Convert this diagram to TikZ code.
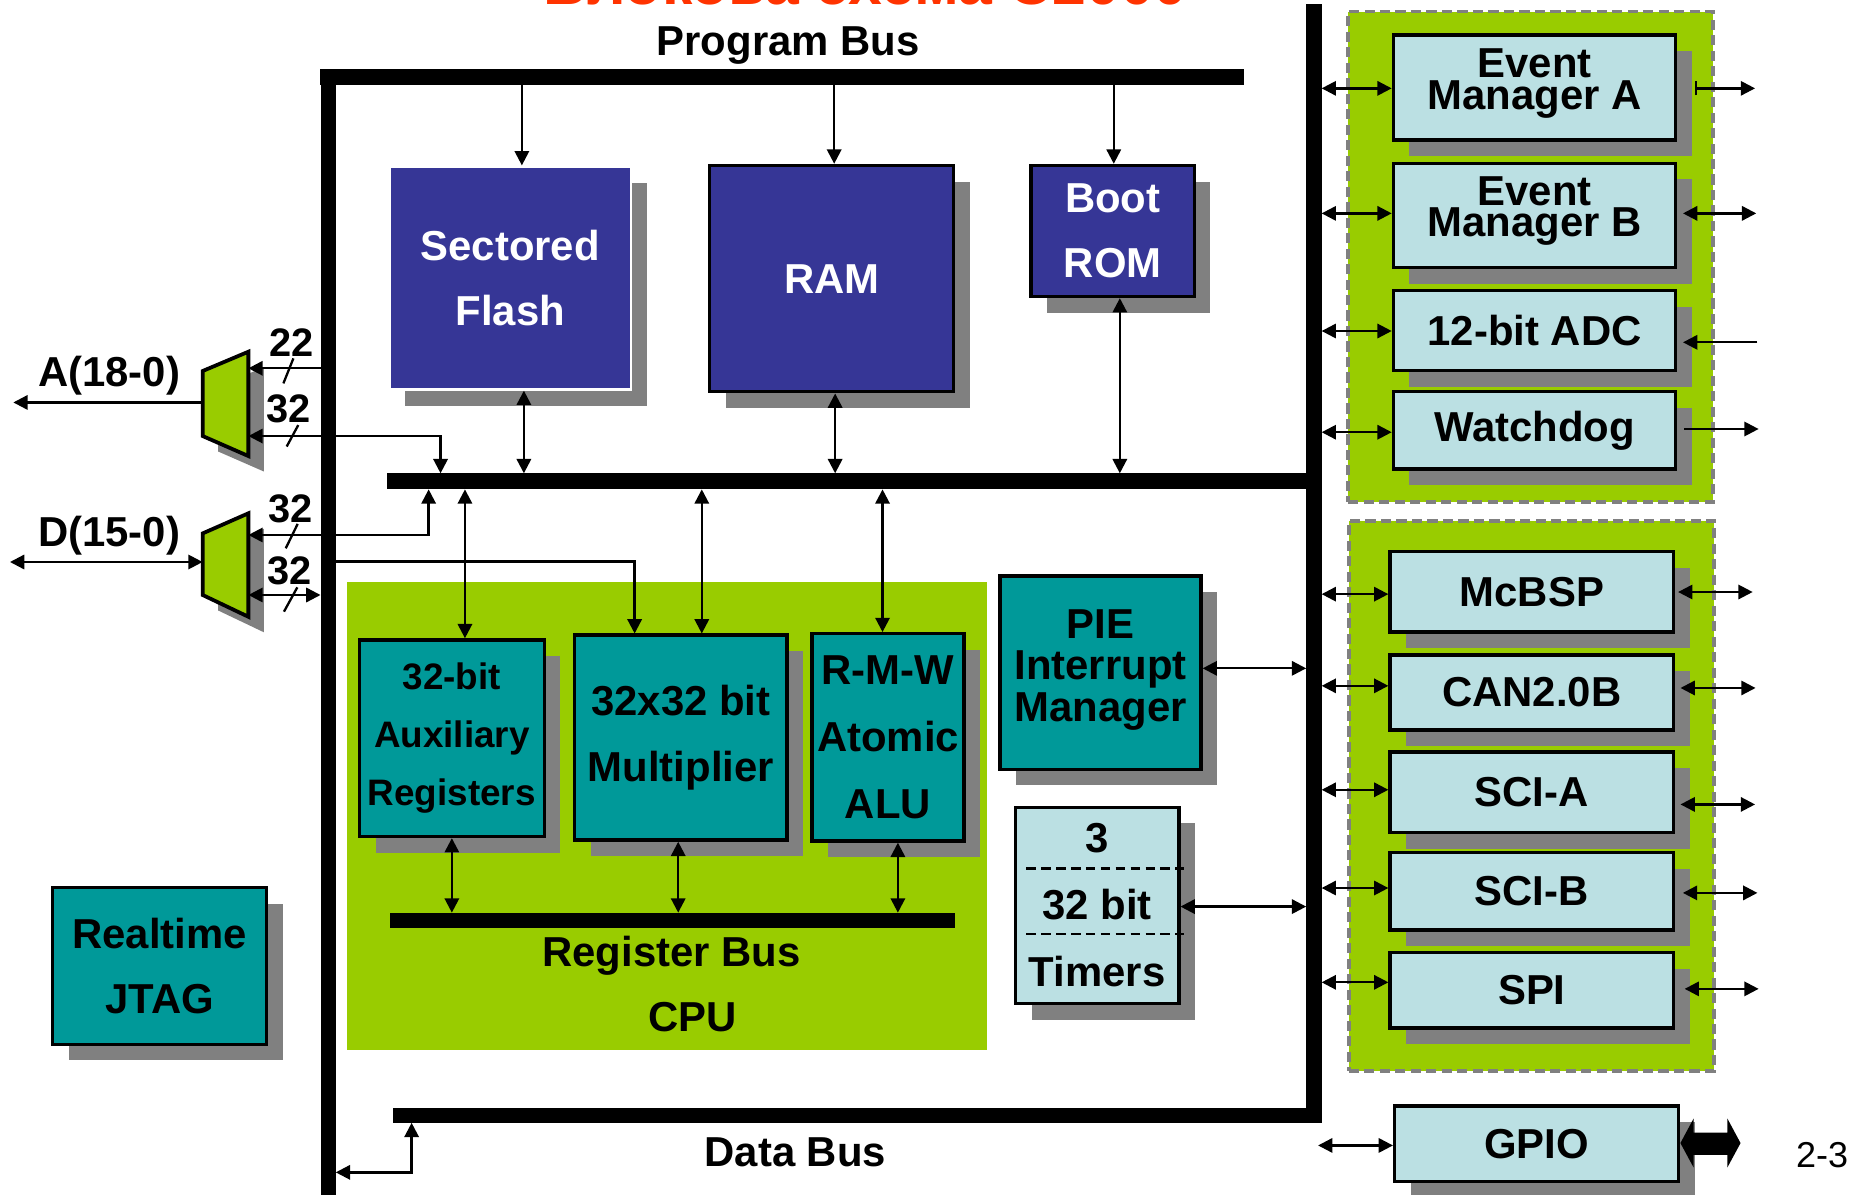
\documentclass[tikz,border=0pt]{standalone}
\usepackage{fontspec}
\setmainfont{Liberation Sans}
\usetikzlibrary{arrows.meta,shadows}
\definecolor{memblue}{RGB}{54,54,150}
\definecolor{tealbox}{RGB}{0,153,153}
\definecolor{lightbox}{RGB}{187,224,227}
\definecolor{cpugreen}{RGB}{153,204,0}
\definecolor{shadowgray}{RGB}{128,128,128}
\definecolor{titlered}{RGB}{255,51,0}
\tikzset{
 >={Triangle[length=1.2mm,width=1.2mm]},
 con/.style={line width=0.55pt},
 bus/.style={fill=black,inner sep=0pt,outer sep=0pt,draw=none},
 shad/.style={drop shadow={shadow xshift=0.135cm,shadow yshift=-0.135cm,fill=shadowgray,opacity=1}},
 blk/.style={shad,draw=black,line width=0.8pt,inner sep=0pt,align=center},
 memblk/.style={blk,fill=memblue,text=white},
 cpublk/.style={blk,fill=tealbox,text=black},
 litblk/.style={blk,fill=lightbox,text=black},
 perblk/.style={litblk,minimum width=2.37cm},
 bs/.style={font=\fontsize{10}{#1}\selectfont\bfseries},
 lbl/.style={inner sep=0pt,font=\fontsize{10}{12}\selectfont\bfseries},
 num/.style={inner sep=0pt,font=\fontsize{9.5}{11}\selectfont\bfseries},
 grp/.style={fill=cpugreen,draw=shadowgray,line width=0.9pt,dash pattern=on 0.085cm off 0.045cm,inner sep=0pt},
}
\begin{document}
\lineskiplimit=-20pt\relax
\begin{tikzpicture}[x=0.01cm,y=-0.01cm]
\fill[white] (0,0) rectangle (1568,1003);
\useasboundingbox (0,0) rectangle (1568,1003);

% title (cut off at the top)
\node[anchor=base,text=titlered,inner sep=0pt,font=\fontsize{14.5}{16}\selectfont\bfseries] (title) at (727,3.4) {Блокова схема C2000};

% background regions
\node[fill=cpugreen,inner sep=0pt,minimum width=5.375cm,minimum height=3.935cm] (cpu) at (560.25,685.25) {};
\node[grp,minimum width=3.058cm,minimum height=4.115cm] (grp1) at (1285.4,215.55) {};
\node[grp,minimum width=3.069cm,minimum height=4.618cm] (grp2) at (1286.25,668.6) {};

% buses
\node[bus,minimum width=7.755cm,minimum height=0.132cm] (pbus) at (656.95,64.8) {};
\node[bus,minimum width=0.128cm,minimum height=9.6cm] (lbus) at (275.6,538.2) {};
\node[bus,minimum width=0.13cm,minimum height=9.396cm] (rbus) at (1103.5,473.2) {};
\node[bus,minimum width=7.846cm,minimum height=0.135cm] (mbus) at (717.7,404.25) {};
\node[bus,minimum width=7.8cm,minimum height=0.127cm] (dbus) at (720,936.65) {};
\node[bus,minimum width=4.747cm,minimum height=0.132cm] (regbus) at (564.65,773.1) {};

% memory blocks
\node[memblk,draw=white,line width=0.6pt,minimum width=2.03cm,minimum height=1.87cm,bs=15.75] (flash) at (428.5,233.5) {Sectored\\Flash};
\node[memblk,minimum width=2.05cm,minimum height=1.9cm,bs=12] (ram) at (698.5,234) {RAM};
\node[memblk,minimum width=1.37cm,minimum height=1.1cm,bs=15.5] (boot) at (934.5,194) {Boot\\ROM};

% CPU blocks
\node[cpublk,minimum width=1.55cm,minimum height=1.65cm,font=\fontsize{8.8}{13.8}\selectfont\bfseries] (aux) at (379.5,620) {32-bit\\Auxiliary\\Registers};
\node[cpublk,minimum width=1.785cm,minimum height=1.72cm,bs=15.9] (mult) at (571.8,619.5) {32x32 bit\\Multiplier};
\node[cpublk,minimum width=1.275cm,minimum height=1.74cm,bs=16] (alu) at (745.8,619.3) {R-M-W\\Atomic\\ALU};

% PIE, timers, JTAG
\node[cpublk,minimum width=1.686cm,minimum height=1.623cm,bs=9.9] (pie) at (924.3,564.9) {PIE\\Interrupt\\Manager\rule[-3.5pt]{0pt}{0pt}};
\node[litblk,minimum width=1.37cm,minimum height=1.65cm,bs=16] (timers) at (921.5,760.5) {3\\32 bit\\Timers};
\draw[dash pattern=on 0.08cm off 0.045cm,line width=0.7pt] (862,729.3) -- (994,729.3);
\draw[dash pattern=on 0.08cm off 0.045cm,line width=0.7pt] (862,784.4) -- (994,784.4);
\node[cpublk,minimum width=1.796cm,minimum height=1.315cm,bs=15.5] (jtag) at (134,811.3) {Realtime\\JTAG};

% peripherals
\node[perblk,minimum height=0.88cm,bs=7.5] (ema) at (1288.8,73.5) {Event\\Manager A\rule[-4pt]{0pt}{0pt}};
\node[perblk,minimum height=0.876cm,bs=7.5] (emb) at (1288.8,181) {Event\\Manager B\rule[-4.2pt]{0pt}{0pt}};
\node[perblk,minimum height=0.672cm,bs=12] (adc) at (1288.8,277.7) {12-bit ADC};
\node[perblk,minimum height=0.65cm,bs=12] (wd) at (1288.8,361.5) {Watchdog};
\node[perblk,minimum width=2.38cm,minimum height=0.673cm,bs=12] (mcbsp) at (1286.5,497) {McBSP};
\node[perblk,minimum width=2.38cm,minimum height=0.632cm,bs=12] (can) at (1286.5,581.6) {CAN2.0B};
\node[perblk,minimum width=2.38cm,minimum height=0.677cm,bs=12] (scia) at (1286.5,665.5) {SCI-A};
\node[perblk,minimum width=2.38cm,minimum height=0.651cm,bs=12] (scib) at (1286.5,748.6) {SCI-B};
\node[perblk,minimum width=2.38cm,minimum height=0.632cm,bs=12] (spi) at (1286.5,831.7) {SPI};
\node[perblk,minimum width=2.383cm,minimum height=0.632cm,bs=12] (gpio) at (1290.5,960.6) {GPIO};

% multiplexers
\fill[shadowgray] (183.2,324.6) -- (221.6,308.4) -- (221.6,396) -- (183.2,379.2) -- cycle;
\draw[fill=cpugreen,line width=0.9pt] (170.2,311.6) -- (208.6,295.4) -- (208.6,383) -- (170.2,366.2) -- cycle;
\fill[shadowgray] (183.2,461) -- (221.6,444.1) -- (221.6,531) -- (183.2,512.7) -- cycle;
\draw[fill=cpugreen,line width=0.9pt] (170.2,448) -- (208.6,431.1) -- (208.6,518) -- (170.2,499.7) -- cycle;
\coordinate (muxAl) at (170.2,338);
\coordinate (muxAr) at (208.6,339);
\coordinate (muxDl) at (170.2,472);
\coordinate (muxDr) at (208.6,474);
\coordinate (aEnd) at (11.2,338);
\coordinate (dEnd) at (8.4,472);

% labels
\node[lbl,anchor=base] (lPB) at (662,46.2) {Program Bus};
\node[lbl,anchor=base] (lA) at (91.7,324.2) {A(18-0)};
\node[lbl,anchor=base] (lD) at (91.7,459.1) {D(15-0)};
\node[num,anchor=base] (n22) at (244.5,299.6) {22};
\node[num,anchor=base] (n32a) at (242.5,355) {32};
\node[num,anchor=base] (n32b) at (243.7,439) {32};
\node[num,anchor=base] (n32c) at (243,491.3) {32};
\node[lbl,anchor=base] (lRB) at (564,811.9) {Register Bus};
\node[lbl,anchor=base] (lCPU) at (581.6,866.5) {CPU};
\node[lbl,anchor=base] (lDB) at (668,979.8) {Data Bus};
\node[inner sep=0pt,font=\fontsize{8.6}{10}\selectfont] (pg) at (1530.4,970) {2-3};

% program bus to memories
\draw[con,->] (438.3,0 |- pbus.south) -- (438.3,0 |- flash.north);
\draw[con,->] (700.6,0 |- pbus.south) -- (700.6,0 |- ram.north);
\draw[con,->] (935.4,0 |- pbus.south) -- (935.4,0 |- boot.north);
% memories to memory bus
\draw[con,<->] (440,0 |- flash.south) -- (440,0 |- mbus.north);
\draw[con,<->] (701.4,0 |- ram.south) -- (701.4,0 |- mbus.north);
\draw[con,<->] (940.5,0 |- boot.south) -- (940.5,0 |- mbus.north);
% memory bus to CPU
\draw[con,<->] (390.5,0 |- mbus.south) -- (390.5,0 |- aux.north);
\draw[con,<->] (589.4,0 |- mbus.south) -- (589.4,0 |- mult.north);
\draw[con,<->] (741.2,0 |- mbus.south) -- (741.2,0 |- alu.north);
\draw[con,->] (lbus.east |- 0,471.7) -| (533,0 |- mult.north);
% register bus
\draw[con,<->] (379.5,0 |- aux.south) -- (379.5,0 |- regbus.north);
\draw[con,<->] (569.6,0 |- mult.south) -- (569.6,0 |- regbus.north);
\draw[con,<->] (754.1,0 |- alu.south) -- (754.1,0 |- regbus.north);

% multiplexer connections
\draw[con,->] (lbus.west |- 0,309.3) -- (muxAr |- 0,309.3);
\draw[con,<->] (370,0 |- mbus.north) |- (muxAr |- 0,366.2);
\draw[con,<->] (360,0 |- mbus.south) |- (muxDr |- 0,449.3);
\draw[con,<->] (muxDr |- 0,499.7) -- (lbus.west |- 0,499.7);
\draw[con,->] (muxAl) -- (aEnd);
\draw[con,<->] (dEnd) -- (muxDl);
\draw[con] (246.4,301) -- (238,322);
\draw[con] (250.5,357) -- (240.8,375);
\draw[con] (250,440) -- (240,460.5);
\draw[con] (249.7,493.3) -- (238.5,513.7);

% PIE, timers, data bus
\draw[con,<->] (pie.east |- 0,561.3) -- (rbus.west |- 0,561.3);
\draw[con,<->] (timers.east |- 0,761.4) -- (rbus.west |- 0,761.4);
\draw[con,<->] (345.7,0 |- dbus.south) |- (lbus.east |- 0,984.6);

% right bus to peripherals
\foreach \b/\y in {ema/74.2,emb/179.2,adc/278,wd/363,mcbsp/499,can/576,scia/663.3,scib/745.8,spi/825}
  \draw[con,<->] (rbus.east |- 0,\y) -- (\b.west |- 0,\y);
\coordinate (gpL) at (1107,962);
\draw[con,<->] (gpL) -- (gpio.west |- gpL);

% peripheral pins
\coordinate (emaR) at (1474,74.2);
\coordinate (embR) at (1475,179.2);
\coordinate (adcR) at (1476,287.5);
\coordinate (wdR) at (1477,360.3);
\coordinate (mcR) at (1472,497.2);
\coordinate (canR) at (1474.4,577.8);
\coordinate (sciaR) at (1474,675.6);
\coordinate (scibR) at (1476,749.9);
\coordinate (spiR) at (1477,830.5);
\draw[con,{Bar[width=1.2mm]}->] ([xshift=0.146cm]ema.east |- emaR) -- (emaR);
\draw[con,<->] ([xshift=0.047cm]emb.east |- embR) -- (embR);
\draw[con,->] (adcR) -- ([xshift=0.047cm]adc.east |- adcR);
\draw[con,->] ([xshift=0.057cm]wd.east |- wdR) -- (wdR);
\draw[con,<->] ([xshift=0.024cm]mcbsp.east |- mcR) -- (mcR);
\draw[con,<->] ([xshift=0.044cm]can.east |- canR) -- (canR);
\draw[con,<->] ([xshift=0.044cm]scia.east |- sciaR) -- (sciaR);
\draw[con,<->] ([xshift=0.064cm]scib.east |- scibR) -- (scibR);
\draw[con,<->] ([xshift=0.079cm]spi.east |- spiR) -- (spiR);

% GPIO wide double arrow
\fill[black] (1411.3,960) -- (1422.3,939.5) -- (1422.3,951.3) -- (1450.8,951.3) -- (1450.8,939.5)
  -- (1461.8,960) -- (1450.8,980.4) -- (1450.8,970) -- (1422.3,970) -- (1422.3,980.4) -- cycle;
\end{tikzpicture}
\end{document}
